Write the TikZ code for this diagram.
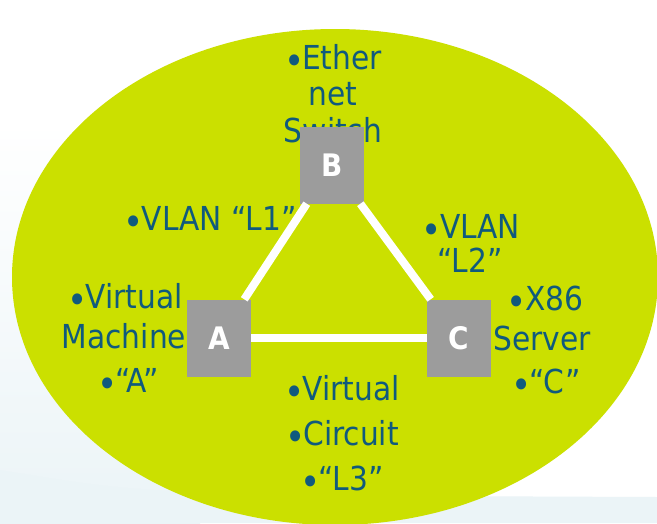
\documentclass[tikz,border=0pt]{standalone}
\usepackage{fontspec}
\setmainfont{DejaVu Sans Condensed}
\usepackage{tikz}
\usepackage{xcolor}
\usetikzlibrary{positioning}
\definecolor{lime}{RGB}{203,224,0}
\definecolor{teal}{RGB}{16,90,125}
\definecolor{boxgray}{RGB}{156,156,156}
\definecolor{mist}{RGB}{235,244,247}
\newcommand{\bul}{\raisebox{-5pt}{\fontsize{38}{38}\selectfont•}\kern-2pt}
\tikzstyle{device} = [rectangle, minimum width=64pt, minimum height=77pt, inner sep=0pt, fill=boxgray, text=white, font=\fontsize{31}{36}\selectfont\bfseries]
\tikzstyle{link} = [white, line width=8pt]
\tikzstyle{note} = [anchor=base, inner sep=0pt, text=teal, font=\fontsize{33}{40}\selectfont]

\begin{document}
\begin{tikzpicture}[x=1pt, y=-1pt]

\useasboundingbox (0,0) rectangle (657,523);
\fill[white] (0,0) rectangle (657,523);

% Background
\shade[top color=white, bottom color=mist] (0,120) rectangle (200,523);
\fill[mist] (0,523) -- (0,470) .. controls (150,495) .. (657,497) -- (657,523) -- cycle;
\fill[lime] (335,277) ellipse [x radius=323, y radius=248];

% Notes
\node (eth1) [note] at (333,69) {\bul Ether};
\node (eth2) [note] at (333,105) {net};
\node (eth3) [note] at (333,142) {Switch};
\node (lan1) [note] at (210,230) {\bul VLAN “L1”};
\node (lan2a) [note] at (471,238) {\bul VLAN};
\node (lan2b) [note] at (470,272) {“L2”};
\node (vma) [note] at (125,308) {\bul Virtual};
\node (vmb) [note] at (124,348) {Machine};
\node (vmc) [note] at (128,392) {\bul “A”};
\node (srva) [note] at (545,310) {\bul X86};
\node (srvb) [note] at (542,350) {Server};
\node (srvc) [note] at (546,393) {\bul “C”};
\node (vca) [note] at (342,400) {\bul Virtual};
\node (vcb) [note] at (342,445) {\bul Circuit};
\node (vcc) [note] at (342,490) {\bul “L3”};

% Devices
\node (A) [device] at (219,338) {A};
\node (B) [device] at (332,165) {B};
\node (C) [device] at (459,338) {C};

% Links
\draw [link] (A) -- (B);
\draw [link] (B) -- (C);
\draw [link] (A) -- (C);

\end{tikzpicture}
\end{document}
